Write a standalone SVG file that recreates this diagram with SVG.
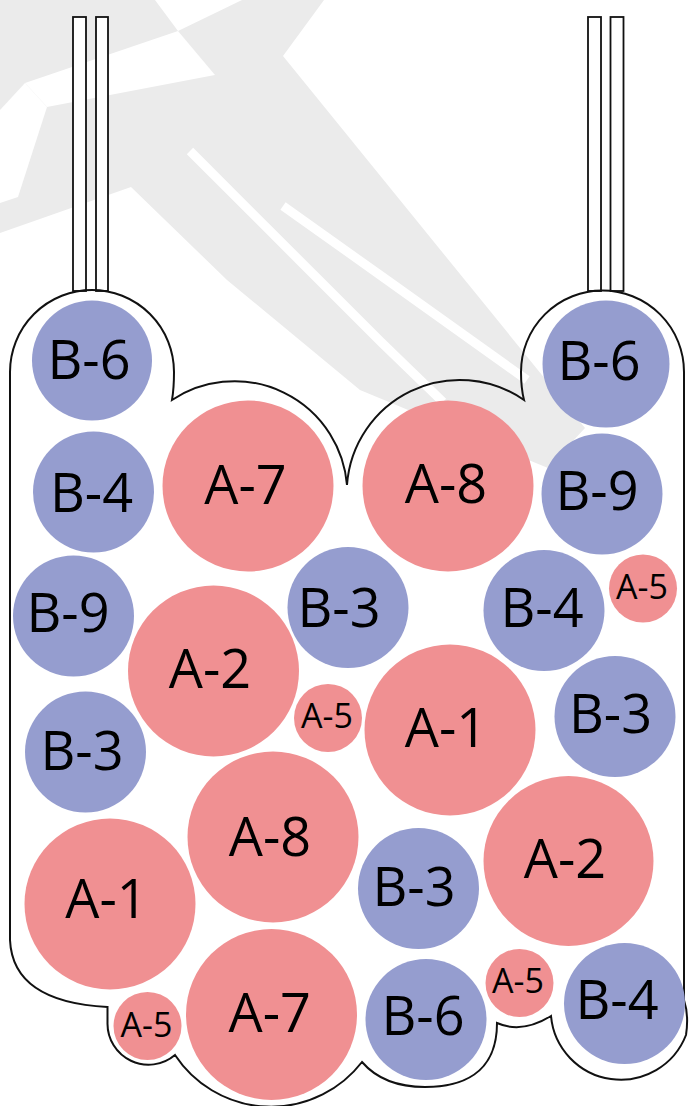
<svg xmlns="http://www.w3.org/2000/svg" width="691" height="1106" viewBox="0 0 691 1106">
<style>
.a{fill:#F09092}
.b{fill:#959DCF}
.t{font-family:"Open Sans","Liberation Sans",sans-serif;font-size:54px;fill:#000;text-anchor:middle}
.s{font-size:34px}
.wm{fill:#EBEBEB}
.wg{fill:#fff}
.wl{fill:none;stroke:#fff;stroke-width:9}
</style>
<rect width="691" height="1106" fill="#fff"/>
<g id="watermark">
<polygon class="wm" points="0,0 155,0 178,31 242,0 324,0 283,56 585,428 548,468 360,390 227,280 131,187 0,233"/>
<polygon class="wg" points="178,31 215,75 47,107 25,83"/>
<polygon class="wg" points="0,110 25,83 47,107 18,197 0,203"/>
<polyline class="wl" points="190,151 381,342 443,402"/>
<polyline class="wl" points="283,206 387,280 527,380"/>
</g>
<g id="vessel">
<rect x="73" y="17" width="13" height="274" fill="#fff" stroke="#111" stroke-width="1.8"/>
<rect x="96" y="17" width="12" height="274" fill="#fff" stroke="#111" stroke-width="1.8"/>
<rect x="588" y="17" width="13" height="274" fill="#fff" stroke="#111" stroke-width="1.8"/>
<rect x="610.5" y="17" width="13" height="274" fill="#fff" stroke="#111" stroke-width="1.8"/>
<path d="M10 940 L10 372 A82 82 0 0 1 174 372 C174 385 173 394 172 400 A113 113 0 0 1 347 485 A113 113 0 0 1 524 400 C522 392 521 383 521 372 A81.5 81.5 0 0 1 684 372 L684 1000 Q689 1015 686 1035 A70 70 0 0 1 551 1016 Q522 1034 497 1023 C497 1075 460 1087 425 1087 C395 1087 375 1077 362 1062 A115 115 0 0 1 175 1055 A41 41 0 0 1 107.5 1023 L107.5 1007 C50 1004 12 985 10 940 Z" fill="none" stroke="#111" stroke-width="2"/>
</g>
<g id="n1"><circle class="b" cx="92" cy="360.5" r="60"/><text class="t" x="89" y="379">B-6</text></g>
<g id="n2"><circle class="b" cx="93.5" cy="492" r="60.5"/><text class="t" x="91.5" y="511.5">B-4</text></g>
<g id="n3"><circle class="a" cx="248" cy="486" r="85.5"/><text class="t" x="245.5" y="504">A-7</text></g>
<g id="n4"><circle class="a" cx="448" cy="486" r="85.5"/><text class="t" x="446" y="503">A-8</text></g>
<g id="n5"><circle class="b" cx="602" cy="494" r="60.5"/><text class="t" x="597" y="510">B-9</text></g>
<g id="n6"><circle class="b" cx="606" cy="364" r="63.5"/><text class="t" x="599" y="380">B-6</text></g>
<g id="n7"><circle class="b" cx="73.5" cy="616" r="60.5"/><text class="t" x="68" y="632">B-9</text></g>
<g id="n8"><circle class="b" cx="348" cy="607.5" r="60.5"/><text class="t" x="339" y="627">B-3</text></g>
<g id="n9"><circle class="a" cx="213.5" cy="671" r="85.5"/><text class="t" x="210" y="688">A-2</text></g>
<g id="n10"><circle class="b" cx="544" cy="610.5" r="60.5"/><text class="t" x="542" y="627">B-4</text></g>
<g id="n11"><circle class="a" cx="643" cy="588.5" r="34"/><text class="t s" x="642" y="599">A-5</text></g>
<g id="n12"><circle class="a" cx="328" cy="718" r="34"/><text class="t s" x="327" y="728">A-5</text></g>
<g id="n13"><circle class="a" cx="450" cy="730" r="85.5"/><text class="t" x="446" y="746.5">A-1</text></g>
<g id="n14"><circle class="b" cx="615" cy="716.5" r="60.5"/><text class="t" x="610.5" y="733">B-3</text></g>
<g id="n15"><circle class="b" cx="85.5" cy="752" r="60.5"/><text class="t" x="82" y="770">B-3</text></g>
<g id="n16"><circle class="a" cx="273" cy="837" r="85.5"/><text class="t" x="270" y="856">A-8</text></g>
<g id="n17"><circle class="a" cx="568.5" cy="861" r="85"/><text class="t" x="565" y="878">A-2</text></g>
<g id="n18"><circle class="b" cx="418.5" cy="888.5" r="60.5"/><text class="t" x="414" y="905.5">B-3</text></g>
<g id="n19"><circle class="a" cx="110" cy="904" r="85.5"/><text class="t" x="106.5" y="918">A-1</text></g>
<g id="n20"><circle class="a" cx="271.5" cy="1014.5" r="85.5"/><text class="t" x="269.7" y="1031.5">A-7</text></g>
<g id="n21"><circle class="b" cx="426" cy="1019.5" r="60.5"/><text class="t" x="423" y="1035">B-6</text></g>
<g id="n22"><circle class="a" cx="519.5" cy="983" r="34"/><text class="t s" x="518" y="993">A-5</text></g>
<g id="n23"><circle class="b" cx="624.5" cy="1003.5" r="60.5"/><text class="t" x="617" y="1019">B-4</text></g>
<g id="n24"><circle class="a" cx="147.5" cy="1026" r="34"/><text class="t s" x="146.5" y="1036.5">A-5</text></g>
<g id="connectors"></g>
</svg>
